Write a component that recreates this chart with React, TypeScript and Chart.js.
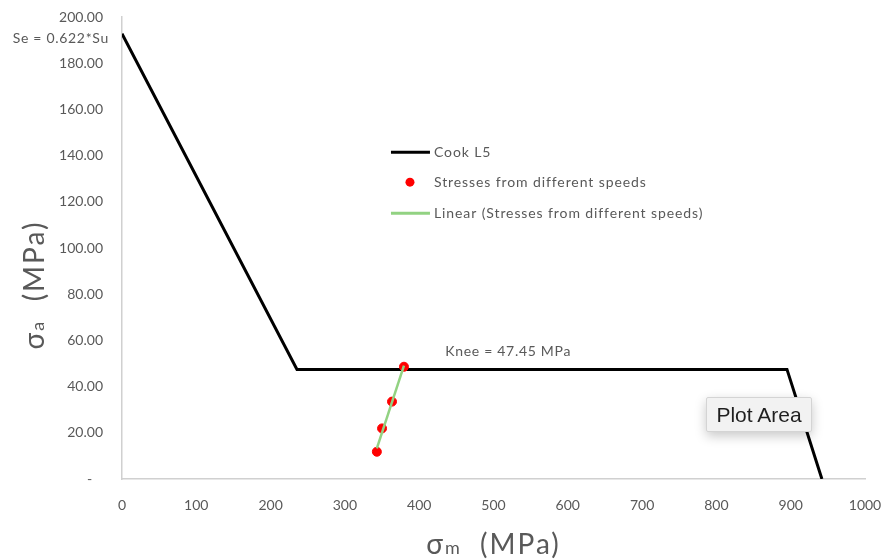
import React, { useEffect, useRef } from 'react';
import { Chart, registerables } from 'chart.js';

Chart.register(...registerables);

// ---- data ----
const cookX = [0, 235.5, 895, 942];
const cookY = [192.8, 47.45, 47.45, 0];
const stressX = [343, 350, 363.4, 379.5];
const stressY = [11.8, 21.9, 33.5, 48.6];
const xTicks = [0, 100, 200, 300, 400, 500, 600, 700, 800, 900, 1000];
const yTicks = [0, 20, 40, 60, 80, 100, 120, 140, 160, 180, 200];
const legendLabels = [
  'Cook L5',
  'Stresses from different speeds',
  'Linear (Stresses from different speeds)',
];
const seLabel = 'Se = 0.622*Su';
const kneeLabel = 'Knee = 47.45 MPa';
const xTitle = ['σ', 'm', '  (MPa)'];
const yTitle = ['σ', 'a', '  (MPa)'];

const GRAY = '#595959';
const FONT = 'Lato, "Open Sans", sans-serif';

function trend(xs: number[], ys: number[]) {
  const n = xs.length;
  const mx = xs.reduce((a, b) => a + b, 0) / n;
  const my = ys.reduce((a, b) => a + b, 0) / n;
  let sxy = 0, sxx = 0;
  for (let i = 0; i < n; i++) {
    sxy += (xs[i] - mx) * (ys[i] - my);
    sxx += (xs[i] - mx) * (xs[i] - mx);
  }
  const b = sxy / sxx;
  const a = my - b * mx;
  const x0 = Math.min(...xs), x1 = Math.max(...xs);
  return [{ x: x0, y: a + b * x0 }, { x: x1, y: a + b * x1 }];
}

function drawTitle(ctx: CanvasRenderingContext2D, parts: string[]) {
  const big = `28px ${FONT}`;
  const small = `18px ${FONT}`;
  const c = ctx as any;
  c.letterSpacing = '2px';
  ctx.font = big;
  const w0 = ctx.measureText(parts[0]).width;
  ctx.font = small;
  const w1 = ctx.measureText(parts[1]).width;
  ctx.font = big;
  const w2 = ctx.measureText(parts[2]).width;
  const total = w0 + w1 + w2;
  let x = -total / 2;
  ctx.font = big;
  ctx.fillText(parts[0], x, 0);
  x += w0;
  ctx.font = small;
  ctx.fillText(parts[1], x, 0);
  x += w1;
  ctx.font = big;
  ctx.fillText(parts[2], x, 0);
  c.letterSpacing = '0px';
}

const annotPlugin = {
  id: 'annot',
  afterDatasetsDraw(chart: any) {
    const ctx: CanvasRenderingContext2D = chart.ctx;
    const c = ctx as any;
    const xs = chart.scales.x;
    const ys = chart.scales.y;
    const area = chart.chartArea;
    ctx.save();
    ctx.fillStyle = GRAY;
    ctx.textBaseline = 'middle';

    // Se label
    ctx.font = `14px ${FONT}`;
    c.letterSpacing = '0.7px';
    ctx.textAlign = 'right';
    ctx.fillText(seLabel, area.left - 13, ys.getPixelForValue(cookY[0]) + 5);

    // Knee label
    ctx.textAlign = 'left';
    ctx.fillText(kneeLabel, xs.getPixelForValue(435), ys.getPixelForValue(cookY[1]) - 18);

    // Legend
    const lx = xs.getPixelForValue(362);
    const ly = [ys.getPixelForValue(141.5), ys.getPixelForValue(128.5), ys.getPixelForValue(115)];
    ctx.lineWidth = 3;
    ctx.strokeStyle = '#000';
    ctx.beginPath();
    ctx.moveTo(lx, ly[0]);
    ctx.lineTo(lx + 39, ly[0]);
    ctx.stroke();
    ctx.fillStyle = '#ff0000';
    ctx.beginPath();
    ctx.arc(lx + 19, ly[1], 4.5, 0, Math.PI * 2);
    ctx.fill();
    ctx.strokeStyle = '#92d282';
    ctx.beginPath();
    ctx.moveTo(lx, ly[2]);
    ctx.lineTo(lx + 39, ly[2]);
    ctx.stroke();
    ctx.fillStyle = GRAY;
    ctx.font = `14px ${FONT}`;
    c.letterSpacing = '0.9px';
    legendLabels.forEach((t, i) => ctx.fillText(t, lx + 43, ly[i]));
    c.letterSpacing = '0px';

    // Axis titles
    ctx.textBaseline = 'alphabetic';
    ctx.textAlign = 'left';
    ctx.save();
    ctx.translate((area.left + area.right) / 2, 554);
    drawTitle(ctx, xTitle);
    ctx.restore();
    ctx.save();
    ctx.translate(44, 285);
    ctx.rotate(-Math.PI / 2);
    drawTitle(ctx, yTitle);
    ctx.restore();

    ctx.restore();
  },
};

export default function App() {
  const ref = useRef<HTMLCanvasElement>(null);
  useEffect(() => {
    if (!ref.current) return;
    const chart = new Chart(ref.current, {
      type: 'scatter',
      data: {
        datasets: [
          {
            label: legendLabels[2],
            data: trend(stressX, stressY),
            showLine: true,
            borderColor: '#92d282',
            borderWidth: 2.5,
            pointRadius: 0,
          },
          {
            label: legendLabels[1],
            data: stressX.map((x, i) => ({ x, y: stressY[i] })),
            backgroundColor: '#ff0000',
            borderColor: '#ff0000',
            pointRadius: 4.5,
            showLine: false,
          },
          {
            label: legendLabels[0],
            data: cookX.map((x, i) => ({ x, y: cookY[i] })),
            showLine: true,
            borderColor: '#000000',
            borderWidth: 3,
            pointRadius: 0,
          },
        ],
      },
      options: {
        animation: false,
        responsive: false,
        layout: { padding: { top: 17, right: 24, left: 0, bottom: 0 } },
        plugins: { legend: { display: false }, tooltip: { enabled: false } },
        scales: {
          x: {
            type: 'linear',
            min: xTicks[0],
            max: xTicks[xTicks.length - 1],
            afterBuildTicks: (s: any) => { s.ticks = xTicks.map((v) => ({ value: v })); },
            afterFit: (s: any) => {
              s.height = 81;
              s.paddingLeft = 0;
              s.paddingRight = 0;
            },
            grid: { drawOnChartArea: false, drawTicks: false },
            border: { display: true, color: '#d0d0d0', width: 1.5 },
            ticks: {
              color: GRAY,
              font: { family: FONT, size: 14 },
              padding: 18,
              maxRotation: 0,
              callback: (v: any) => String(v),
            },
          },
          y: {
            type: 'linear',
            min: yTicks[0],
            max: yTicks[yTicks.length - 1],
            afterBuildTicks: (s: any) => { s.ticks = yTicks.map((v) => ({ value: v })); },
            afterFit: (s: any) => {
              s.width = 122;
              s.paddingTop = 0;
              s.paddingBottom = 0;
            },
            grid: { drawOnChartArea: false, drawTicks: false },
            border: { display: true, color: '#d0d0d0', width: 1.5 },
            ticks: {
              color: GRAY,
              font: { family: FONT, size: 14 },
              padding: 19,
              callback: (v: any) => (v === 0 ? '-   ' : Number(v).toFixed(2)),
            },
          },
        },
      },
      plugins: [annotPlugin],
    });
    return () => chart.destroy();
  }, []);

  return (
    <div style={{ position: 'fixed', left: 0, top: 0, width: 889, height: 560, background: '#fff' }}>
      <canvas ref={ref} width={889} height={560} style={{ width: 889, height: 560, display: 'block' }} />
      <div
        style={{
          position: 'absolute',
          left: 706,
          top: 397,
          width: 106,
          height: 35,
          background: '#f2f2f2',
          border: '1px solid #d4d4d4',
          borderRadius: 2,
          boxShadow: '0 4px 12px rgba(0,0,0,0.22)',
          fontFamily: '"Liberation Sans", Arial, sans-serif',
          fontSize: 21,
          color: '#1f1f1f',
          display: 'flex',
          alignItems: 'center',
          justifyContent: 'center',
          boxSizing: 'border-box',
        }}
      >
        Plot Area
      </div>
    </div>
  );
}
